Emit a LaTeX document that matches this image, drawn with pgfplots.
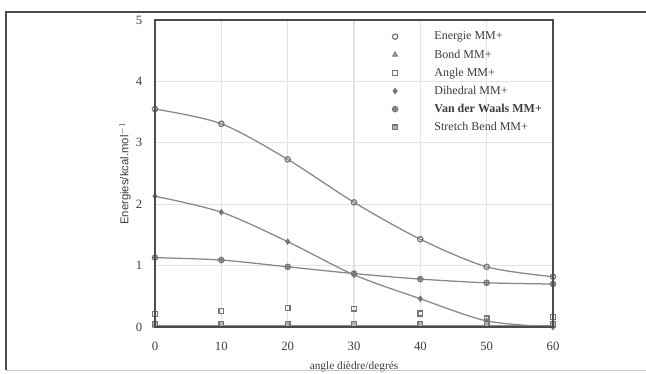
\documentclass[border=0pt]{standalone}
\usepackage{fontspec}
\setmainfont{Liberation Serif}
\newfontfamily\arialfont{Liberation Sans}
\usepackage{pgfplots}
\pgfplotsset{compat=1.18}
\definecolor{lc}{HTML}{888888}
\definecolor{mc}{HTML}{777777}
\definecolor{tc}{HTML}{3C3C3C}
\begin{document}
\begin{tikzpicture}[x=0.75pt,y=0.75pt]
\useasboundingbox (-155,-47) rectangle (491,327);
\begin{axis}[
  name=ax,
  at={(0,0)}, anchor=south west,
  scale only axis, width=298.5pt, height=230.25pt,
  xmin=0, xmax=60, ymin=0, ymax=5,
  xtick={0,10,...,60}, ytick={0,1,...,5},
  grid=major, major grid style={draw=gray!22, line width=0.8pt},
  axis line style={draw=gray!60!black, line width=1.2pt},
  tick style={draw=none},
  /pgf/number format/assume math mode=true,
  ticklabel style={font=\fontsize{9.5}{10}\selectfont, text=tc},
  xticklabel style={yshift=-8pt},
  yticklabel style={xshift=-6pt},
  xlabel={angle dièdre/degrés},
  xlabel style={font=\fontsize{8.5}{9}\selectfont, text=tc, at={(axis description cs:0.5,-0.13)}, anchor=center},
  ylabel={\arialfont Energies/kcal.mol$^{-1}$},
  ylabel style={font=\fontsize{8.5}{9}\selectfont, text=tc, at={(axis description cs:-0.075,0.5)}, anchor=center},
  clip mode=individual,
  every axis plot/.append style={line width=0.95pt},
  legend image code/.code={\draw[only marks] plot coordinates {(0.2cm,0cm)}; \path (0cm,0cm) (1.15cm,0cm);},
  legend style={at={(rel axis cs:0.582,0.975)}, anchor=north west, draw=none, fill=none, inner sep=0pt,
    font=\fontsize{9}{10}\selectfont, text=tc, row sep=0.6pt,
    nodes={inner sep=2pt, text height=7pt, text depth=2pt}},
  legend cell align=left,
]
\addplot[lc, smooth, mark=o, mark options={mc, solid, scale=1.0}] coordinates {
 (0,3.55) (10,3.31) (20,2.73) (30,2.03) (40,1.43) (50,0.98) (60,0.82)};
\addlegendentry{Energie MM+}
\addplot[lc, mark=triangle, mark options={mc, solid, scale=0.9}] coordinates {
 (0,0.02) (10,0.02) (20,0.02) (30,0.02) (40,0.02) (50,0.02) (60,0.02)};
\addlegendentry{Bond MM+}
\addplot[lc, only marks, mark=square, mark options={mc, solid, scale=0.9}] coordinates {
 (0,0.21) (10,0.26) (20,0.31) (30,0.30) (40,0.22) (50,0.14) (60,0.16)};
\addlegendentry{Angle MM+}
\addplot[lc, smooth, mark=diamond*, mark options={mc, solid, scale=0.9}] coordinates {
 (0,2.13) (10,1.87) (20,1.39) (30,0.85) (40,0.46) (50,0.10) (60,0.00)};
\addlegendentry{Dihedral MM+}
\addplot[lc, smooth, mark=oplus, mark options={mc, solid, scale=1.0}] coordinates {
 (0,1.13) (10,1.09) (20,0.98) (30,0.87) (40,0.78) (50,0.72) (60,0.70)};
\addlegendentry{\textbf{Van der Waals MM+}}
\addplot[lc, only marks, mark=square*, mark options={mc, fill=gray!60, solid, scale=0.9}] coordinates {
 (0,0.05) (10,0.05) (20,0.05) (30,0.05) (40,0.05) (50,0.05) (60,0.05)};
\addlegendentry{Stretch Bend MM+}
\end{axis}
\draw[gray!60!black, line width=1.2pt] (ax.south west) rectangle (ax.north east);
\draw[gray!60!black, line width=1.4pt] (-149,-43) -- (-149,315) -- (491,315);
\draw[gray!45, line width=0.6pt] (-149,-43) -- (491,-43);
\end{tikzpicture}
\end{document}
